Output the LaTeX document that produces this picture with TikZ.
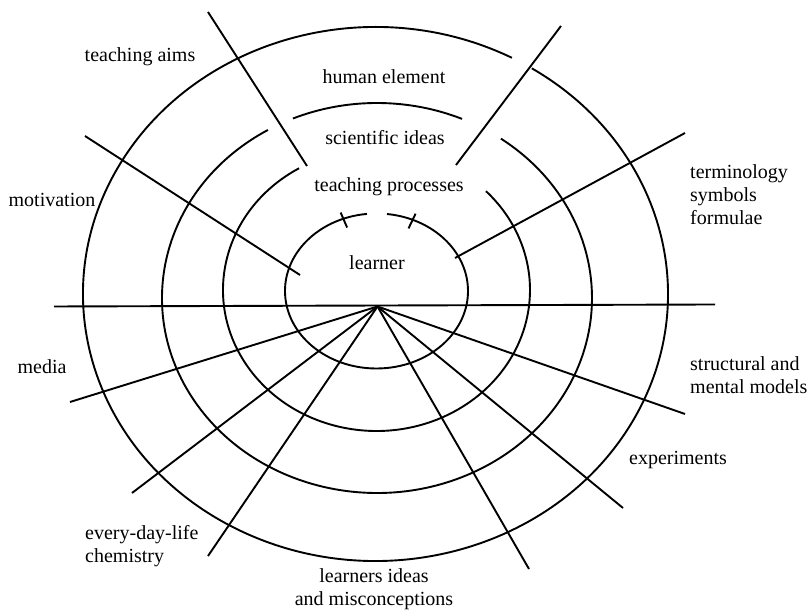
\documentclass[tikz,border=0pt]{standalone}
\usepackage{fontspec}
\setmainfont{Liberation Serif}
\usetikzlibrary{calc}

\begin{document}
\begin{tikzpicture}[
    x=1pt, y=1pt,
    ring/.style={line width=1.9pt},
    spoke/.style={line width=1.9pt},
    txt/.style={font=\fontsize{20}{23}\selectfont, inner sep=0pt, align=center},
    tag/.style={txt, align=left, anchor=west}
]
\useasboundingbox (0,0) rectangle (809,612);

% Centres
\coordinate (hub) at (377.5,305.5);
\coordinate (lc) at (376.5,321);

% Rings
\draw[ring] (375.5,318) ++(62.2:292.5 and 267) arc[start angle=62.2, end angle=417.7, x radius=292.5, y radius=267];
\draw[ring] (377,314) ++(66.7:215 and 195) arc[start angle=66.7, end angle=113, x radius=215, y radius=195];
\draw[ring] (377,314) ++(120.5:215 and 195) arc[start angle=120.5, end angle=414.8, x radius=215, y radius=195];
\draw[ring] (376.5,322) ++(120.3:153.5 and 141) arc[start angle=120.3, end angle=404.5, x radius=153.5, y radius=141];
\draw[ring] (lc) ++(96:91.5 and 77.5) arc[start angle=96, end angle=443.4, x radius=91.5, y radius=77.5];

% Ticks on the learner ring
\draw[ring] ($(lc)+(111:82 and 68)$) -- ($(lc)+(111:100 and 84)$);
\draw[ring] ($(lc)+(67:82 and 68)$) -- ($(lc)+(67:100 and 84)$);

% Axis
\coordinate (axl) at (54,305.5);
\coordinate (axr) at (715,307.5);
\draw[spoke] (axl) -- (axr);

% Spokes from the hub
\coordinate (sp1) at (70,210);
\coordinate (sp2) at (132,119);
\coordinate (sp3) at (208,56);
\coordinate (sp4) at (529,43);
\coordinate (sp5) at (623,104);
\coordinate (sp6) at (685,198);
\foreach \s in {sp1,sp2,sp3,sp4,sp5,sp6}
    \draw[spoke] (hub) -- (\s);

% Upper cross lines
\coordinate (mo1) at (85,476);   \coordinate (mo2) at (300,337);
\coordinate (ai1) at (208,600);  \coordinate (ai2) at (307,446);
\coordinate (he1) at (561,586);  \coordinate (he2) at (456,447);
\coordinate (te1) at (685,479);  \coordinate (te2) at (455,354);
\draw[spoke] (mo1) -- (mo2);
\draw[spoke] (ai1) -- (ai2);
\draw[spoke] (he1) -- (he2);
\draw[spoke] (te1) -- (te2);

% Inner labels
\node[txt] (human) at (384,535) {human element};
\node[txt] (sci) at (385,474) {scientific ideas};
\node[txt] (proc) at (389,425) {teaching processes};
\node[txt] (learner) at (377,349) {learner};

% Outer labels
\node[txt] (aims) at (140,555) {teaching aims};
\node[txt] (motiv) at (52,412) {motivation};
\node[txt] (media) at (42,245) {media};
\node[tag] (daily) at (85,66) {every-day-life\\chemistry};
\node[txt] (ideas) at (374,23) {learners ideas\\and misconceptions};
\node[txt] (exper) at (678,152) {experiments};
\node[tag] (models) at (690,237) {structural and\\mental models};
\node[tag] (termin) at (690,417) {terminology\\symbols\\formulae};

\end{tikzpicture}
\end{document}
